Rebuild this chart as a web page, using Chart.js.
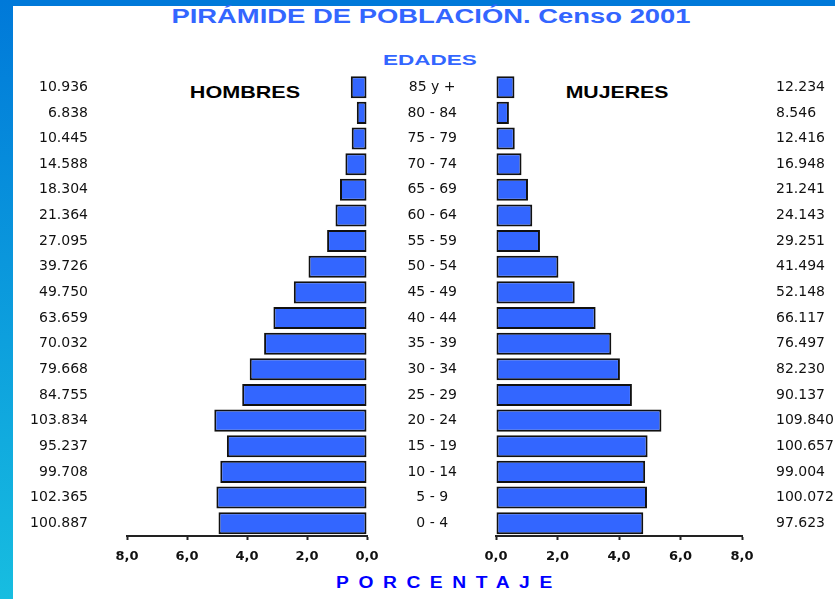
<!DOCTYPE html>
<html>
<head>
<meta charset="utf-8">
<script src="https://cdn.jsdelivr.net/npm/chart.js@4/dist/chart.umd.min.js"></script>
<style>
  body { margin: 0; width: 835px; height: 599px; background: #fff; position: relative; overflow: hidden; font-family: "Liberation Sans", Arial, sans-serif; }
  #topbar { position: absolute; left: 0; top: 0; width: 835px; height: 6px; background: #0079d9; }
  #leftbar { position: absolute; left: 0; top: 0; width: 13px; height: 599px; background: linear-gradient(#0079d9, #17bde0); }
  .lbl { position: absolute; white-space: nowrap; font-weight: bold; line-height: 1; transform-origin: center center; }
  #title { left: 431px; top: 6px; font-size: 20px; color: #3366ff; transform: translateX(-50%) scaleX(1.37); }
  #edades { left: 430px; top: 52px; font-size: 15px; color: #3366ff; transform: translateX(-50%) scaleX(1.5); }
  #hombres { left: 245px; top: 84px; font-size: 17px; color: #000; transform: translateX(-50%) scaleX(1.27); }
  #mujeres { left: 617px; top: 84px; font-size: 17px; color: #000; transform: translateX(-50%) scaleX(1.25); }
  #porcentaje { left: 336px; top: 575px; font-size: 16px; color: #0000ff; letter-spacing: 8px; transform-origin: left center; transform: scaleX(1.2); }
  #men { position: absolute; left: 0; top: 66px; }
  #women { position: absolute; left: 380px; top: 66px; }
</style>
</head>
<body>
<div id="topbar"></div>
<div id="leftbar"></div>
<div class="lbl" id="title">PIRÁMIDE DE POBLACIÓN. Censo 2001</div>
<div class="lbl" id="edades">EDADES</div>
<div class="lbl" id="hombres">HOMBRES</div>
<div class="lbl" id="mujeres">MUJERES</div>
<div class="lbl" id="porcentaje">PORCENTAJE</div>
<canvas id="men" width="380" height="514"></canvas>
<canvas id="women" width="455" height="514"></canvas>
<script>
const ages = ['85 y +', '80 - 84', '75 - 79', '70 - 74', '65 - 69', '60 - 64', '55 - 59', '50 - 54', '45 - 49',
  '40 - 44', '35 - 39', '30 - 34', '25 - 29', '20 - 24', '15 - 19', '10 - 14', '5 - 9', '0 - 4'];
const menCounts = ['10.936', '6.838', '10.445', '14.588', '18.304', '21.364', '27.095', '39.726', '49.750',
  '63.659', '70.032', '79.668', '84.755', '103.834', '95.237', '99.708', '102.365', '100.887'];
const womenCounts = ['12.234', '8.546', '12.416', '16.948', '21.241', '24.143', '29.251', '41.494', '52.148',
  '66.117', '76.497', '82.230', '90.137', '109.840', '100.657', '99.004', '100.072', '97.623'];
// percent of total population
const menPct = [0.54, 0.34, 0.51, 0.72, 0.90, 1.05, 1.33, 1.95, 2.44, 3.12, 3.43, 3.91, 4.16, 5.09, 4.67, 4.89, 5.02, 4.95];
const womenPct = [0.60, 0.42, 0.61, 0.83, 1.04, 1.18, 1.43, 2.03, 2.56, 3.24, 3.75, 4.03, 4.42, 5.38, 4.93, 4.85, 4.91, 4.79];
const pctTicks = [0, 2, 4, 6, 8];

const barColor = '#3366ff';
const textFont = { family: 'DejaVu Sans', size: 14 };
const tickFont = { family: 'DejaVu Sans', size: 13, weight: 'bold' };

function pctAxis(reverse) {
  return {
    min: 0, max: 8, reverse: reverse,
    afterBuildTicks: s => { s.ticks = pctTicks.map(v => ({ value: v })); },
    ticks: { callback: v => v.toFixed(1).replace('.', ','), font: tickFont, color: '#111', padding: 9, maxRotation: 0 },
    grid: { drawOnChartArea: false, drawTicks: true, tickLength: 4, tickColor: '#222', tickWidth: 2 },
    border: { display: true, color: '#222', width: 2 },
    afterFit: s => { s.height = 44; }
  };
}

// label axis: gap to the bars is an invisible tick length so no extra vertical padding is added
function labelAxis(gap, align, width, extra) {
  return Object.assign({
    ticks: { font: textFont, color: '#111', padding: 0, crossAlign: align },
    grid: { display: false, drawTicks: true, tickLength: gap },
    border: { display: false },
    afterFit: s => { s.width = width; }
  }, extra || {});
}

function barSet(values) {
  return {
    data: values,
    backgroundColor: barColor,
    borderColor: '#111',
    borderWidth: 2,
    borderSkipped: false,
    barPercentage: 0.86,
    categoryPercentage: 1
  };
}

renderCharts();

function renderCharts() {
  new Chart(document.getElementById('men'), {
    type: 'bar',
    data: { labels: menCounts, datasets: [barSet(menPct)] },
    options: {
      indexAxis: 'y',
      responsive: false,
      animation: false,
      layout: { padding: { top: 0, right: 13, left: 0, bottom: 0 } },
      plugins: { legend: { display: false }, tooltip: { enabled: false } },
      scales: {
        x: pctAxis(true),
        y: labelAxis(39, 'near', 127)
      }
    }
  });

  new Chart(document.getElementById('women'), {
    type: 'bar',
    data: { labels: ages, datasets: [barSet(womenPct)] },
    options: {
      indexAxis: 'y',
      responsive: false,
      animation: false,
      layout: { padding: 0 },
      plugins: { legend: { display: false }, tooltip: { enabled: false } },
      scales: {
        x: pctAxis(false),
        y: labelAxis(39, 'center', 116),
        y2: labelAxis(34, 'near', 93, { type: 'category', labels: womenCounts, position: 'right', offset: true })
      }
    }
  });
}
</script>
</body>
</html>
